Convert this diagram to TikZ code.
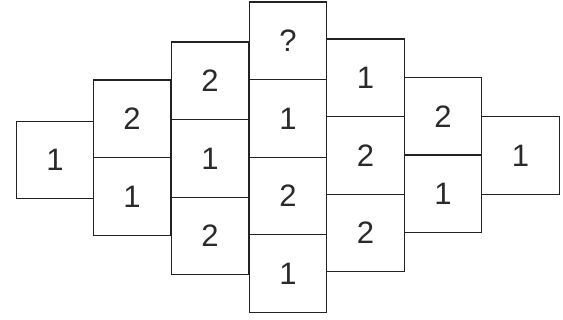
\documentclass[tikz,border=0pt]{standalone}
\usepackage{fontspec}
\setmainfont{Liberation Sans}
\definecolor{lineclr}{HTML}{222222}
\definecolor{txtclr}{HTML}{2A2A2A}
\begin{document}
\begin{tikzpicture}[x=1pt,y=-1pt,
  cell/.style={draw=lineclr, line width=1.3pt, minimum width=77.6pt, minimum height=77.6pt,
    inner sep=0pt, text=txtclr, font=\fontsize{31}{31}\selectfont}]
\useasboundingbox[fill=white] (0,0) rectangle (563,320);
% column 1
\node[cell] (c1) at (55,160) {1};
% column 2
\node[cell] (c2a) at (132,118.8) {2};
\node[cell] (c2b) at (132,196.4) {1};
% column 3
\node[cell] (c3a) at (210,80.8) {2};
\node[cell] (c3b) at (210,158.4) {1};
\node[cell] (c3c) at (210,236.0) {2};
% column 4
\node[cell] (c4a) at (288,40.8) {?};
\node[cell] (c4b) at (288,118.4) {1};
\node[cell] (c4c) at (288,196.0) {2};
\node[cell] (c4d) at (288,273.6) {1};
% column 5
\node[cell] (c5a) at (365.5,77.8) {1};
\node[cell] (c5b) at (365.5,155.4) {2};
\node[cell] (c5c) at (365.5,233.0) {2};
% column 6
\node[cell] (c6a) at (443,116.6) {2};
\node[cell] (c6b) at (443,193.4) {1};
% column 7
\node[cell] (c7) at (520.5,155.6) {1};
\end{tikzpicture}
\end{document}
